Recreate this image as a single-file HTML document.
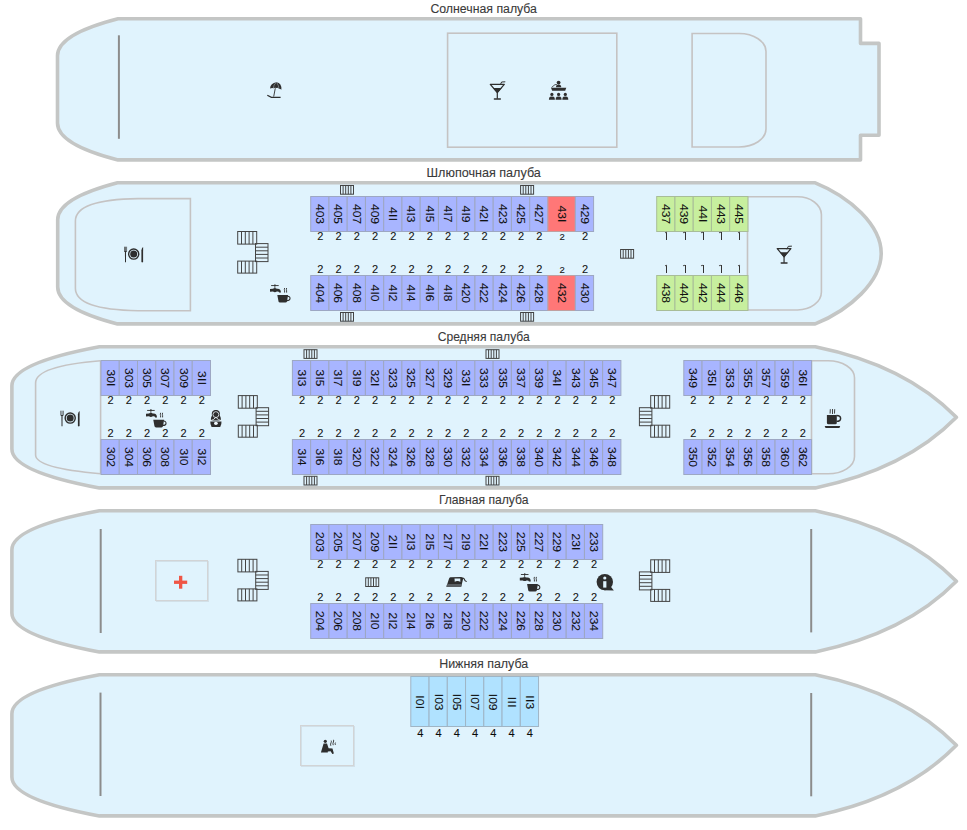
<!DOCTYPE html>
<html><head><meta charset="utf-8"><style>
html,body{margin:0;padding:0;background:#fff;width:967px;height:830px;overflow:hidden;position:relative}
.c{position:absolute}
.c span{position:absolute;left:calc(50% - 0.6px);top:50%;transform:translate(-50%,-50%) rotate(90deg) scaleX(1.05);font:11.5px "Liberation Sans",sans-serif;color:#111;white-space:nowrap;line-height:1;-webkit-text-stroke:0.08px #000}
.c i{font-style:normal;margin:0 0.5px}
.o{display:inline-block;width:1px;height:8px;background:#333;margin-left:1px;position:relative;vertical-align:baseline}
.o:before{content:'';position:absolute;left:-1.6px;top:0.3px;width:2px;height:1px;background:#555;transform:rotate(-20deg)}
.l{position:absolute;width:20px;height:12px;text-align:center;font-family:"Liberation Sans",sans-serif;color:#111;line-height:12px;-webkit-text-stroke:0.08px #000}
</style></head><body>
<svg width="967" height="830" viewBox="0 0 967 830" style="position:absolute;left:0;top:0"><path d="M118,18.8 L860.5,18.8 L860.5,43.4 L879,43.4 L879,135.3 L860.5,135.3 L860.5,159.9 L118,159.9 Q57.5,144.36 57.5,122.90 L57.5,55.80 Q57.5,34.34 118,18.8 Z" fill="#e0f3fd" stroke="#c4c6c5" stroke-width="3.6" stroke-linejoin="round"/><path d="M117.5,182.8 L815.2,182.8 C850,196.8 881.2,225.35 881.2,253.35 C881.2,281.35 850,309.9 815.2,323.9 L117.5,323.9 Q57.7,308.36 57.7,286.90 L57.7,219.80 Q57.7,198.34 117.5,182.8 Z" fill="#e0f3fd" stroke="#c4c6c5" stroke-width="3.6" stroke-linejoin="round"/><path d="M99.4,346.8 L815.3,346.8 Q905,365.0 956.4,417.35 Q905,469.7 815.3,487.9 L99.4,487.9 Q11.9,471.52 11.9,448.90 L11.9,385.80 Q11.9,363.18 99.4,346.8 Z" fill="#e0f3fd" stroke="#c4c6c5" stroke-width="3.6" stroke-linejoin="round"/><path d="M99.4,510.8 L815.3,510.8 Q905,529.0 956.4,581.35 Q905,633.6999999999999 815.3,651.9 L99.4,651.9 Q11.9,635.52 11.9,612.90 L11.9,549.80 Q11.9,527.18 99.4,510.8 Z" fill="#e0f3fd" stroke="#c4c6c5" stroke-width="3.6" stroke-linejoin="round"/><path d="M99.4,674.8 L815.3,674.8 Q905,693.0 956.4,745.3499999999999 Q905,797.6999999999999 815.3,815.9 L99.4,815.9 Q11.9,799.52 11.9,776.90 L11.9,713.80 Q11.9,691.18 99.4,674.8 Z" fill="#e0f3fd" stroke="#c4c6c5" stroke-width="3.6" stroke-linejoin="round"/><text x="483.7" y="13.0" text-anchor="middle" font-family="Liberation Sans" font-size="12.3" fill="#3a3a3a" stroke="#3a3a3a" stroke-width="0.1">Солнечная палуба</text><text x="483.7" y="176.8" text-anchor="middle" font-family="Liberation Sans" font-size="12.6" fill="#3a3a3a" stroke="#3a3a3a" stroke-width="0.1">Шлюпочная палуба</text><text x="483.7" y="340.6" text-anchor="middle" font-family="Liberation Sans" font-size="12.1" fill="#3a3a3a" stroke="#3a3a3a" stroke-width="0.1">Средняя палуба</text><text x="483.7" y="504.4" text-anchor="middle" font-family="Liberation Sans" font-size="12.15" fill="#3a3a3a" stroke="#3a3a3a" stroke-width="0.1">Главная палуба</text><text x="483.7" y="668.2" text-anchor="middle" font-family="Liberation Sans" font-size="12.45" fill="#3a3a3a" stroke="#3a3a3a" stroke-width="0.1">Нижняя палуба</text><line x1="118.9" y1="35.3" x2="118.9" y2="138.8" stroke="#8c8c8c" stroke-width="2"/><line x1="100.7" y1="529" x2="100.7" y2="633" stroke="#8c8c8c" stroke-width="2"/><line x1="811.2" y1="529" x2="811.2" y2="632.4" stroke="#8c8c8c" stroke-width="2"/><line x1="100.5" y1="692.6" x2="100.5" y2="796" stroke="#8c8c8c" stroke-width="2"/><line x1="811.2" y1="693" x2="811.2" y2="796.3" stroke="#8c8c8c" stroke-width="2"/><rect x="447.6" y="33.2" width="169.2" height="114" fill="none" stroke="#c5c3c3" stroke-width="1.6"/><path d="M692.1,33.5 L739,33.5 A27,18 0 0 1 766,51.5 L766,129 A27,18 0 0 1 739,147 L692.1,147 Z" fill="none" stroke="#c5c3c3" stroke-width="1.6"/><path d="M190.4,198.6 L190.4,310.7 L138,310.7 Q75.4,309.8 75.4,288.3 L75.4,221 Q75.4,199.5 138,198.6 Z" fill="none" stroke="#c5c3c3" stroke-width="1.6"/><path d="M747.5,196.8 L797.5,196.8 A24,18 0 0 1 821.4,214.5 L821.4,292 A24,18 0 0 1 797.5,310 L747.5,310 Z" fill="none" stroke="#c5c3c3" stroke-width="1.6"/><path d="M100.6,360.8 Q35.6,366 35.6,383 L35.6,455 Q35.6,468 100.6,473.8" fill="none" stroke="#c5c3c3" stroke-width="1.6"/><line x1="100.6" y1="360.8" x2="100.6" y2="473.8" stroke="#c5c3c3" stroke-width="1.6"/><path d="M811.5,360.8 L828,360.8 A26.5,17 0 0 1 854.5,377.8 L854.5,456.8 A26.5,17 0 0 1 828,473.8 L811.5,473.8 Z" fill="none" stroke="#c5c3c3" stroke-width="1.6"/><rect x="156.5" y="561.5" width="52" height="40" fill="none" stroke="#b8bcc0" stroke-width="1" opacity="0.35"/><rect x="155.5" y="560.5" width="52" height="40" fill="none" stroke="#d2d4d6" stroke-width="1"/><rect x="301.5" y="726.5" width="53" height="40" fill="none" stroke="#b8bcc0" stroke-width="1" opacity="0.35"/><rect x="300.5" y="725.5" width="53" height="40" fill="none" stroke="#d2d4d6" stroke-width="1"/><g fill="#2e2e2e"><path d="M270,88.6 Q270.5,83 276.5,82.3 Q281.8,83 281.4,89.8 Q280.3,88.6 279,88.7 Q277.8,87.4 276.3,88 Q274.6,87.3 273.4,88.3 Q271.8,87.8 270,88.6 Z"/><path d="M275.8,82.8 Q273.6,85 273.3,88.2 M276.8,82.7 Q278.8,85.5 278.9,88.6" stroke="#b8c4cc" stroke-width="0.5" fill="none"/><path d="M275.3,88.2 L273.7,96.6" stroke="#2e2e2e" stroke-width="0.9" fill="none"/><path d="M267.3,95.2 L271.4,97.4 L280.6,97.4" stroke="#2e2e2e" stroke-width="1.2" fill="none"/></g><g transform="translate(490.3,84.4) scale(1.0)" fill="#2e2e2e"><path d="M0,0 L14,0 L7,8.2 Z" fill="none" stroke="#2e2e2e" stroke-width="1.25" stroke-linejoin="round"/><path d="M2.6,3.7 L11.4,3.7 L7,8.6 Z"/><rect x="6.4" y="8" width="1.2" height="6.4"/><rect x="3.4" y="13.9" width="7.3" height="1.4" rx="0.6"/><path d="M9.9,0.6 L11.3,-2.4 L15,-2.6" fill="none" stroke="#2e2e2e" stroke-width="1"/></g><g transform="translate(777.2,248.7) scale(0.98)" fill="#2e2e2e"><path d="M0,0 L14,0 L7,8.2 Z" fill="none" stroke="#2e2e2e" stroke-width="1.25" stroke-linejoin="round"/><path d="M2.6,3.7 L11.4,3.7 L7,8.6 Z"/><rect x="6.4" y="8" width="1.2" height="6.4"/><rect x="3.4" y="13.9" width="7.3" height="1.4" rx="0.6"/><path d="M9.9,0.6 L11.3,-2.4 L15,-2.6" fill="none" stroke="#2e2e2e" stroke-width="1"/></g><g fill="#2e2e2e"><circle cx="558.6" cy="82.6" r="1.9"/><path d="M551,87.8 L566.3,87.8 L565.2,90.8 L552.2,90.8 Z"/><path d="M551.6,87.4 L555,84.6 L557,84.6" stroke="#2e2e2e" stroke-width="0.8" fill="none"/><path d="M556,87.3 Q556,84.6 558.6,84.6 Q561.2,84.6 561.2,87.3 Z"/><circle cx="551.9" cy="94.4" r="1.6"/><path d="M548.9,99.7 L549.1999999999999,97.8 Q549.6,96.5 551.9,96.5 Q554.1999999999999,96.5 554.6,97.8 L554.9,99.7 Z"/><circle cx="558.6" cy="94.4" r="1.6"/><path d="M555.6,99.7 L555.9,97.8 Q556.3000000000001,96.5 558.6,96.5 Q560.9,96.5 561.3000000000001,97.8 L561.6,99.7 Z"/><circle cx="565.3" cy="94.4" r="1.6"/><path d="M562.3,99.7 L562.5999999999999,97.8 Q563.0,96.5 565.3,96.5 Q567.5999999999999,96.5 568.0,97.8 L568.3,99.7 Z"/></g><g transform="translate(133.7,254.1)" fill="#2e2e2e"><rect x="-9.7" y="-7.4" width="0.65" height="4.4"/><rect x="-8.5" y="-7.4" width="0.65" height="4.4"/><rect x="-7.3" y="-7.4" width="0.65" height="4.4"/><path d="M-9.7,-3.2 L-6.65,-3.2 Q-6.9,-2.1 -7.7,-2 L-8.7,-2 Q-9.5,-2.1 -9.7,-3.2 Z"/><path d="M-8.75,-2.3 L-7.65,-2.3 L-7.7,8 L-8.2,8.4 L-8.7,8 Z"/><circle cx="0" cy="0" r="5.05" fill="none" stroke="#2e2e2e" stroke-width="1.4"/><circle cx="0" cy="0" r="3.5"/><path d="M7.7,8 L7.7,-3.5 Q8,-6.6 9.4,-7.2 L9.4,8 Q8.5,8.6 7.7,8 Z"/></g><g transform="translate(70.2,418.1)" fill="#2e2e2e"><rect x="-9.7" y="-7.4" width="0.65" height="4.4"/><rect x="-8.5" y="-7.4" width="0.65" height="4.4"/><rect x="-7.3" y="-7.4" width="0.65" height="4.4"/><path d="M-9.7,-3.2 L-6.65,-3.2 Q-6.9,-2.1 -7.7,-2 L-8.7,-2 Q-9.5,-2.1 -9.7,-3.2 Z"/><path d="M-8.75,-2.3 L-7.65,-2.3 L-7.7,8 L-8.2,8.4 L-8.7,8 Z"/><circle cx="0" cy="0" r="5.05" fill="none" stroke="#2e2e2e" stroke-width="1.4"/><circle cx="0" cy="0" r="3.5"/><path d="M7.7,8 L7.7,-3.5 Q8,-6.6 9.4,-7.2 L9.4,8 Q8.5,8.6 7.7,8 Z"/></g><g transform="translate(270,285.6)" fill="#2e2e2e"><rect x="1.1" y="-0.45" width="7.6" height="0.9"/><rect x="4.2" y="-1.1" width="1.4" height="1.2"/><rect x="4.5" y="0" width="0.8" height="2.4"/><path d="M0,3.3 L3,3.1 Q4.9,1.8 6.8,3.1 L7.6,3.1 Q10.9,3.3 11,7 L9.1,7 Q9,6 7.6,5.9 L6.8,5.9 Q4.9,7.3 3,5.9 L0,6.1 Z"/><path d="M7.3,9.4 L18.1,9.4 L17,15.9 Q16.7,17 15.5,17 L10,17 Q8.8,17 8.5,15.9 Z"/><path d="M17.6,10.6 Q20.2,10.8 20,13.2 Q19.8,15 16.9,15" fill="none" stroke="#2e2e2e" stroke-width="1.1"/><path d="M14.6,2.4 Q14.1,4 14.6,5.2 L14.6,7 M16.6,2.4 Q16.1,4 16.6,5.2 L16.6,7" stroke="#2e2e2e" stroke-width="0.9" fill="none"/></g><g transform="translate(146,410.4)" fill="#2e2e2e"><rect x="1.1" y="-0.45" width="7.6" height="0.9"/><rect x="4.2" y="-1.1" width="1.4" height="1.2"/><rect x="4.5" y="0" width="0.8" height="2.4"/><path d="M0,3.3 L3,3.1 Q4.9,1.8 6.8,3.1 L7.6,3.1 Q10.9,3.3 11,7 L9.1,7 Q9,6 7.6,5.9 L6.8,5.9 Q4.9,7.3 3,5.9 L0,6.1 Z"/><path d="M7.3,9.4 L18.1,9.4 L17,15.9 Q16.7,17 15.5,17 L10,17 Q8.8,17 8.5,15.9 Z"/><path d="M17.6,10.6 Q20.2,10.8 20,13.2 Q19.8,15 16.9,15" fill="none" stroke="#2e2e2e" stroke-width="1.1"/><path d="M14.6,2.4 Q14.1,4 14.6,5.2 L14.6,7 M16.6,2.4 Q16.1,4 16.6,5.2 L16.6,7" stroke="#2e2e2e" stroke-width="0.9" fill="none"/></g><g transform="translate(519.8,574.5)" fill="#2e2e2e"><rect x="1.1" y="-0.45" width="7.6" height="0.9"/><rect x="4.2" y="-1.1" width="1.4" height="1.2"/><rect x="4.5" y="0" width="0.8" height="2.4"/><path d="M0,3.3 L3,3.1 Q4.9,1.8 6.8,3.1 L7.6,3.1 Q10.9,3.3 11,7 L9.1,7 Q9,6 7.6,5.9 L6.8,5.9 Q4.9,7.3 3,5.9 L0,6.1 Z"/><path d="M7.3,9.4 L18.1,9.4 L17,15.9 Q16.7,17 15.5,17 L10,17 Q8.8,17 8.5,15.9 Z"/><path d="M17.6,10.6 Q20.2,10.8 20,13.2 Q19.8,15 16.9,15" fill="none" stroke="#2e2e2e" stroke-width="1.1"/><path d="M14.6,2.4 Q14.1,4 14.6,5.2 L14.6,7 M16.6,2.4 Q16.1,4 16.6,5.2 L16.6,7" stroke="#2e2e2e" stroke-width="0.9" fill="none"/></g><g transform="translate(237.2,231)" fill="none" stroke="#444" stroke-width="1"><rect x="0.5" y="0.5" width="19" height="12.6"/><line x1="4.30" y1="0.5" x2="4.30" y2="13.1"/><line x1="8.10" y1="0.5" x2="8.10" y2="13.1"/><line x1="11.90" y1="0.5" x2="11.90" y2="13.1"/><line x1="15.70" y1="0.5" x2="15.70" y2="13.1"/><rect x="18.3" y="12.6" width="12.5" height="18"/><line x1="18.3" y1="16.20" x2="30.8" y2="16.20"/><line x1="18.3" y1="19.80" x2="30.8" y2="19.80"/><line x1="18.3" y1="23.40" x2="30.8" y2="23.40"/><line x1="18.3" y1="27.00" x2="30.8" y2="27.00"/><rect x="0.5" y="30.1" width="19" height="12"/><line x1="4.30" y1="30.1" x2="4.30" y2="42.1"/><line x1="8.10" y1="30.1" x2="8.10" y2="42.1"/><line x1="11.90" y1="30.1" x2="11.90" y2="42.1"/><line x1="15.70" y1="30.1" x2="15.70" y2="42.1"/></g><g transform="translate(237.8,395.1)" fill="none" stroke="#444" stroke-width="1"><rect x="0.5" y="0.5" width="19" height="12.6"/><line x1="4.30" y1="0.5" x2="4.30" y2="13.1"/><line x1="8.10" y1="0.5" x2="8.10" y2="13.1"/><line x1="11.90" y1="0.5" x2="11.90" y2="13.1"/><line x1="15.70" y1="0.5" x2="15.70" y2="13.1"/><rect x="18.3" y="12.6" width="12.5" height="18"/><line x1="18.3" y1="16.20" x2="30.8" y2="16.20"/><line x1="18.3" y1="19.80" x2="30.8" y2="19.80"/><line x1="18.3" y1="23.40" x2="30.8" y2="23.40"/><line x1="18.3" y1="27.00" x2="30.8" y2="27.00"/><rect x="0.5" y="30.1" width="19" height="12"/><line x1="4.30" y1="30.1" x2="4.30" y2="42.1"/><line x1="8.10" y1="30.1" x2="8.10" y2="42.1"/><line x1="11.90" y1="30.1" x2="11.90" y2="42.1"/><line x1="15.70" y1="30.1" x2="15.70" y2="42.1"/></g><g transform="translate(237.4,558.8)" fill="none" stroke="#444" stroke-width="1"><rect x="0.5" y="0.5" width="19" height="12.6"/><line x1="4.30" y1="0.5" x2="4.30" y2="13.1"/><line x1="8.10" y1="0.5" x2="8.10" y2="13.1"/><line x1="11.90" y1="0.5" x2="11.90" y2="13.1"/><line x1="15.70" y1="0.5" x2="15.70" y2="13.1"/><rect x="18.3" y="12.6" width="12.5" height="18"/><line x1="18.3" y1="16.20" x2="30.8" y2="16.20"/><line x1="18.3" y1="19.80" x2="30.8" y2="19.80"/><line x1="18.3" y1="23.40" x2="30.8" y2="23.40"/><line x1="18.3" y1="27.00" x2="30.8" y2="27.00"/><rect x="0.5" y="30.1" width="19" height="12"/><line x1="4.30" y1="30.1" x2="4.30" y2="42.1"/><line x1="8.10" y1="30.1" x2="8.10" y2="42.1"/><line x1="11.90" y1="30.1" x2="11.90" y2="42.1"/><line x1="15.70" y1="30.1" x2="15.70" y2="42.1"/></g><g transform="translate(639.2,395.1) translate(31,0) scale(-1,1)" fill="none" stroke="#444" stroke-width="1"><rect x="0.5" y="0.5" width="19" height="12.6"/><line x1="4.30" y1="0.5" x2="4.30" y2="13.1"/><line x1="8.10" y1="0.5" x2="8.10" y2="13.1"/><line x1="11.90" y1="0.5" x2="11.90" y2="13.1"/><line x1="15.70" y1="0.5" x2="15.70" y2="13.1"/><rect x="18.3" y="12.6" width="12.5" height="18"/><line x1="18.3" y1="16.20" x2="30.8" y2="16.20"/><line x1="18.3" y1="19.80" x2="30.8" y2="19.80"/><line x1="18.3" y1="23.40" x2="30.8" y2="23.40"/><line x1="18.3" y1="27.00" x2="30.8" y2="27.00"/><rect x="0.5" y="30.1" width="19" height="12"/><line x1="4.30" y1="30.1" x2="4.30" y2="42.1"/><line x1="8.10" y1="30.1" x2="8.10" y2="42.1"/><line x1="11.90" y1="30.1" x2="11.90" y2="42.1"/><line x1="15.70" y1="30.1" x2="15.70" y2="42.1"/></g><g transform="translate(639.2,559.3) translate(31,0) scale(-1,1)" fill="none" stroke="#444" stroke-width="1"><rect x="0.5" y="0.5" width="19" height="12.6"/><line x1="4.30" y1="0.5" x2="4.30" y2="13.1"/><line x1="8.10" y1="0.5" x2="8.10" y2="13.1"/><line x1="11.90" y1="0.5" x2="11.90" y2="13.1"/><line x1="15.70" y1="0.5" x2="15.70" y2="13.1"/><rect x="18.3" y="12.6" width="12.5" height="18"/><line x1="18.3" y1="16.20" x2="30.8" y2="16.20"/><line x1="18.3" y1="19.80" x2="30.8" y2="19.80"/><line x1="18.3" y1="23.40" x2="30.8" y2="23.40"/><line x1="18.3" y1="27.00" x2="30.8" y2="27.00"/><rect x="0.5" y="30.1" width="19" height="12"/><line x1="4.30" y1="30.1" x2="4.30" y2="42.1"/><line x1="8.10" y1="30.1" x2="8.10" y2="42.1"/><line x1="11.90" y1="30.1" x2="11.90" y2="42.1"/><line x1="15.70" y1="30.1" x2="15.70" y2="42.1"/></g><g fill="none" stroke="#444" stroke-width="1"><rect x="340.5" y="185.5" width="13.0" height="8.7"/><line x1="343.10" y1="185.5" x2="343.10" y2="194.2"/><line x1="345.70" y1="185.5" x2="345.70" y2="194.2"/><line x1="348.30" y1="185.5" x2="348.30" y2="194.2"/><line x1="350.90" y1="185.5" x2="350.90" y2="194.2"/></g><g fill="none" stroke="#444" stroke-width="1"><rect x="340.5" y="312.5" width="13.0" height="8.7"/><line x1="343.10" y1="312.5" x2="343.10" y2="321.2"/><line x1="345.70" y1="312.5" x2="345.70" y2="321.2"/><line x1="348.30" y1="312.5" x2="348.30" y2="321.2"/><line x1="350.90" y1="312.5" x2="350.90" y2="321.2"/></g><g fill="none" stroke="#444" stroke-width="1"><rect x="520.6" y="185.5" width="13.0" height="8.7"/><line x1="523.20" y1="185.5" x2="523.20" y2="194.2"/><line x1="525.80" y1="185.5" x2="525.80" y2="194.2"/><line x1="528.40" y1="185.5" x2="528.40" y2="194.2"/><line x1="531.00" y1="185.5" x2="531.00" y2="194.2"/></g><g fill="none" stroke="#444" stroke-width="1"><rect x="520.6" y="312.5" width="13.0" height="8.7"/><line x1="523.20" y1="312.5" x2="523.20" y2="321.2"/><line x1="525.80" y1="312.5" x2="525.80" y2="321.2"/><line x1="528.40" y1="312.5" x2="528.40" y2="321.2"/><line x1="531.00" y1="312.5" x2="531.00" y2="321.2"/></g><g fill="none" stroke="#444" stroke-width="1"><rect x="620.6" y="249.5" width="13.0" height="8.7"/><line x1="623.20" y1="249.5" x2="623.20" y2="258.2"/><line x1="625.80" y1="249.5" x2="625.80" y2="258.2"/><line x1="628.40" y1="249.5" x2="628.40" y2="258.2"/><line x1="631.00" y1="249.5" x2="631.00" y2="258.2"/></g><g fill="none" stroke="#444" stroke-width="1"><rect x="304.0" y="349.7" width="13.0" height="8.7"/><line x1="306.60" y1="349.7" x2="306.60" y2="358.4"/><line x1="309.20" y1="349.7" x2="309.20" y2="358.4"/><line x1="311.80" y1="349.7" x2="311.80" y2="358.4"/><line x1="314.40" y1="349.7" x2="314.40" y2="358.4"/></g><g fill="none" stroke="#444" stroke-width="1"><rect x="486.0" y="349.7" width="13.0" height="8.7"/><line x1="488.60" y1="349.7" x2="488.60" y2="358.4"/><line x1="491.20" y1="349.7" x2="491.20" y2="358.4"/><line x1="493.80" y1="349.7" x2="493.80" y2="358.4"/><line x1="496.40" y1="349.7" x2="496.40" y2="358.4"/></g><g fill="none" stroke="#444" stroke-width="1"><rect x="304.0" y="476.3" width="13.0" height="8.7"/><line x1="306.60" y1="476.3" x2="306.60" y2="485.0"/><line x1="309.20" y1="476.3" x2="309.20" y2="485.0"/><line x1="311.80" y1="476.3" x2="311.80" y2="485.0"/><line x1="314.40" y1="476.3" x2="314.40" y2="485.0"/></g><g fill="none" stroke="#444" stroke-width="1"><rect x="486.0" y="476.3" width="13.0" height="8.7"/><line x1="488.60" y1="476.3" x2="488.60" y2="485.0"/><line x1="491.20" y1="476.3" x2="491.20" y2="485.0"/><line x1="493.80" y1="476.3" x2="493.80" y2="485.0"/><line x1="496.40" y1="476.3" x2="496.40" y2="485.0"/></g><g fill="none" stroke="#444" stroke-width="1"><rect x="365.7" y="577.8" width="13.0" height="8.7"/><line x1="368.30" y1="577.8" x2="368.30" y2="586.5"/><line x1="370.90" y1="577.8" x2="370.90" y2="586.5"/><line x1="373.50" y1="577.8" x2="373.50" y2="586.5"/><line x1="376.10" y1="577.8" x2="376.10" y2="586.5"/></g><g fill="#2e2e2e"><path d="M211,420.6 C210.6,418.2 211.4,416.8 212,415.6 C211.2,411.2 213.2,409.9 215.9,409.9 C218.6,409.9 220.6,411.2 219.8,415.6 C220.4,416.8 221.2,418.2 220.8,420.6 Z"/><circle cx="215.9" cy="414.6" r="2.9" fill="none" stroke="#f2faff" stroke-width="0.8"/><circle cx="215.9" cy="414.6" r="2.0"/><path d="M210.5,420.7 Q213.5,420.2 215.9,417.3 Q218.3,420.2 221.3,420.7" stroke="#f2faff" stroke-width="0.9" fill="none"/><path d="M210.3,421.6 L221.5,421.6 Q221.7,424.6 220.2,426.9 L211.6,426.9 Q210.1,424.6 210.3,421.6 Z"/><ellipse cx="215.9" cy="423.3" rx="1.9" ry="1.6" fill="#f2faff"/></g><g fill="#2e2e2e"><path d="M826.9,415.1 L836.8,415.1 L836.8,422.8 Q836.8,424.3 835.3,424.3 L828.4,424.3 Q826.9,424.3 826.9,422.8 Z"/><path d="M836.5,415.6 Q840.6,415.6 840.6,418.4 Q840.6,421.3 836.5,421.3" stroke="#2e2e2e" stroke-width="1.5" fill="none"/><path d="M824.7,426 L840.2,426 L839.4,428 L825.5,428 Z"/><path d="M830.3,409.2 L830.1,413.6 M832.5,409 L832.5,414 M834.7,409.2 L834.5,413.6" stroke="#2e2e2e" stroke-width="0.9"/></g><g fill="#2e2e2e"><path d="M446.4,586.8 L461.2,586.8 L463.2,578.4 Q463,577 461.2,576.9 L450.4,577.3 Q449.3,577.6 449,578.8 Z"/><path d="M454.5,578.6 L460.3,578.6 L460.3,582 Q459.5,580.9 457.4,580.9 Q455.4,580.9 454.8,582 Z" fill="#e0f3fd"/><path d="M447.1,584 L461.8,584 L461.2,586.8 L446.4,586.8 Z" fill="#5a5f63"/><path d="M462.6,577.8 Q464.6,578.5 465,580.6 L466.7,581.6" stroke="#2e2e2e" stroke-width="1.1" fill="none"/></g><g fill="#2e2e2e"><circle cx="604.8" cy="582.1" r="8.2"/><path d="M604,590.2 L613.8,590.6 L610.5,586.3 Z"/><circle cx="604.8" cy="578" r="1.6" fill="#e0f3fd"/><rect x="603.2" y="581.2" width="3.2" height="6.4" fill="#e0f3fd"/></g><g fill="#ef5545"><rect x="174" y="580.6" width="13.2" height="3.3"/><rect x="179" y="575.8" width="3.3" height="12.9"/></g><g fill="#2e2e2e"><circle cx="325.3" cy="741.3" r="1.6"/><path d="M320.9,752.6 L323.6,743.6 L327,743.6 L328.6,748.3 L332.5,748.6 L333.8,753.3 Q333.2,754.2 332.2,753.7 L330.6,751.2 L327.8,751.4 L327.8,752.6 Z"/><path d="M330.8,745.8 Q330.2,744 331.1,742.6 Q331.6,741.7 331.2,740.6 M333.2,745.2 Q332.6,743.4 333.4,742 Q333.9,741 333.5,739.8 M335.4,744.9 Q334.8,743.6 335.5,742.6" stroke="#2e2e2e" stroke-width="0.9" fill="none"/></g></svg><svg width='967' height='830' style='position:absolute;left:0;top:0'><rect x="310.70" y="196.5" width="18.25" height="35" fill="#a8b5ff" stroke="#9da7c3" stroke-width="1"/><rect x="328.95" y="196.5" width="18.25" height="35" fill="#a8b5ff" stroke="#9da7c3" stroke-width="1"/><rect x="347.20" y="196.5" width="18.25" height="35" fill="#a8b5ff" stroke="#9da7c3" stroke-width="1"/><rect x="365.45" y="196.5" width="18.25" height="35" fill="#a8b5ff" stroke="#9da7c3" stroke-width="1"/><rect x="383.70" y="196.5" width="18.25" height="35" fill="#a8b5ff" stroke="#9da7c3" stroke-width="1"/><rect x="401.95" y="196.5" width="18.25" height="35" fill="#a8b5ff" stroke="#9da7c3" stroke-width="1"/><rect x="420.20" y="196.5" width="18.25" height="35" fill="#a8b5ff" stroke="#9da7c3" stroke-width="1"/><rect x="438.45" y="196.5" width="18.25" height="35" fill="#a8b5ff" stroke="#9da7c3" stroke-width="1"/><rect x="456.70" y="196.5" width="18.25" height="35" fill="#a8b5ff" stroke="#9da7c3" stroke-width="1"/><rect x="474.95" y="196.5" width="18.25" height="35" fill="#a8b5ff" stroke="#9da7c3" stroke-width="1"/><rect x="493.20" y="196.5" width="18.25" height="35" fill="#a8b5ff" stroke="#9da7c3" stroke-width="1"/><rect x="511.45" y="196.5" width="18.25" height="35" fill="#a8b5ff" stroke="#9da7c3" stroke-width="1"/><rect x="529.70" y="196.5" width="18.25" height="35" fill="#a8b5ff" stroke="#9da7c3" stroke-width="1"/><rect x="547.95" y="196.5" width="27.38" height="35" fill="#ff7777" stroke="#c0a0a0" stroke-width="1"/><rect x="575.33" y="196.5" width="18.25" height="35" fill="#a8b5ff" stroke="#9da7c3" stroke-width="1"/><rect x="310.70" y="275.5" width="18.25" height="35" fill="#a8b5ff" stroke="#9da7c3" stroke-width="1"/><rect x="328.95" y="275.5" width="18.25" height="35" fill="#a8b5ff" stroke="#9da7c3" stroke-width="1"/><rect x="347.20" y="275.5" width="18.25" height="35" fill="#a8b5ff" stroke="#9da7c3" stroke-width="1"/><rect x="365.45" y="275.5" width="18.25" height="35" fill="#a8b5ff" stroke="#9da7c3" stroke-width="1"/><rect x="383.70" y="275.5" width="18.25" height="35" fill="#a8b5ff" stroke="#9da7c3" stroke-width="1"/><rect x="401.95" y="275.5" width="18.25" height="35" fill="#a8b5ff" stroke="#9da7c3" stroke-width="1"/><rect x="420.20" y="275.5" width="18.25" height="35" fill="#a8b5ff" stroke="#9da7c3" stroke-width="1"/><rect x="438.45" y="275.5" width="18.25" height="35" fill="#a8b5ff" stroke="#9da7c3" stroke-width="1"/><rect x="456.70" y="275.5" width="18.25" height="35" fill="#a8b5ff" stroke="#9da7c3" stroke-width="1"/><rect x="474.95" y="275.5" width="18.25" height="35" fill="#a8b5ff" stroke="#9da7c3" stroke-width="1"/><rect x="493.20" y="275.5" width="18.25" height="35" fill="#a8b5ff" stroke="#9da7c3" stroke-width="1"/><rect x="511.45" y="275.5" width="18.25" height="35" fill="#a8b5ff" stroke="#9da7c3" stroke-width="1"/><rect x="529.70" y="275.5" width="18.25" height="35" fill="#a8b5ff" stroke="#9da7c3" stroke-width="1"/><rect x="547.95" y="275.5" width="27.38" height="35" fill="#ff7777" stroke="#c0a0a0" stroke-width="1"/><rect x="575.33" y="275.5" width="18.25" height="35" fill="#a8b5ff" stroke="#9da7c3" stroke-width="1"/><rect x="656.70" y="196.5" width="18.25" height="35" fill="#c7ef9e" stroke="#a8bd98" stroke-width="1"/><rect x="674.95" y="196.5" width="18.25" height="35" fill="#c7ef9e" stroke="#a8bd98" stroke-width="1"/><rect x="693.20" y="196.5" width="18.25" height="35" fill="#c7ef9e" stroke="#a8bd98" stroke-width="1"/><rect x="711.45" y="196.5" width="18.25" height="35" fill="#c7ef9e" stroke="#a8bd98" stroke-width="1"/><rect x="729.70" y="196.5" width="18.25" height="35" fill="#c7ef9e" stroke="#a8bd98" stroke-width="1"/><rect x="656.70" y="275.5" width="18.25" height="35" fill="#c7ef9e" stroke="#a8bd98" stroke-width="1"/><rect x="674.95" y="275.5" width="18.25" height="35" fill="#c7ef9e" stroke="#a8bd98" stroke-width="1"/><rect x="693.20" y="275.5" width="18.25" height="35" fill="#c7ef9e" stroke="#a8bd98" stroke-width="1"/><rect x="711.45" y="275.5" width="18.25" height="35" fill="#c7ef9e" stroke="#a8bd98" stroke-width="1"/><rect x="729.70" y="275.5" width="18.25" height="35" fill="#c7ef9e" stroke="#a8bd98" stroke-width="1"/><rect x="101.00" y="360.5" width="18.25" height="35" fill="#a8b5ff" stroke="#9da7c3" stroke-width="1"/><rect x="119.25" y="360.5" width="18.25" height="35" fill="#a8b5ff" stroke="#9da7c3" stroke-width="1"/><rect x="137.50" y="360.5" width="18.25" height="35" fill="#a8b5ff" stroke="#9da7c3" stroke-width="1"/><rect x="155.75" y="360.5" width="18.25" height="35" fill="#a8b5ff" stroke="#9da7c3" stroke-width="1"/><rect x="174.00" y="360.5" width="18.25" height="35" fill="#a8b5ff" stroke="#9da7c3" stroke-width="1"/><rect x="192.25" y="360.5" width="18.25" height="35" fill="#a8b5ff" stroke="#9da7c3" stroke-width="1"/><rect x="101.00" y="439.5" width="18.25" height="35" fill="#a8b5ff" stroke="#9da7c3" stroke-width="1"/><rect x="119.25" y="439.5" width="18.25" height="35" fill="#a8b5ff" stroke="#9da7c3" stroke-width="1"/><rect x="137.50" y="439.5" width="18.25" height="35" fill="#a8b5ff" stroke="#9da7c3" stroke-width="1"/><rect x="155.75" y="439.5" width="18.25" height="35" fill="#a8b5ff" stroke="#9da7c3" stroke-width="1"/><rect x="174.00" y="439.5" width="18.25" height="35" fill="#a8b5ff" stroke="#9da7c3" stroke-width="1"/><rect x="192.25" y="439.5" width="18.25" height="35" fill="#a8b5ff" stroke="#9da7c3" stroke-width="1"/><rect x="292.40" y="360.5" width="18.25" height="35" fill="#a8b5ff" stroke="#9da7c3" stroke-width="1"/><rect x="310.65" y="360.5" width="18.25" height="35" fill="#a8b5ff" stroke="#9da7c3" stroke-width="1"/><rect x="328.90" y="360.5" width="18.25" height="35" fill="#a8b5ff" stroke="#9da7c3" stroke-width="1"/><rect x="347.15" y="360.5" width="18.25" height="35" fill="#a8b5ff" stroke="#9da7c3" stroke-width="1"/><rect x="365.40" y="360.5" width="18.25" height="35" fill="#a8b5ff" stroke="#9da7c3" stroke-width="1"/><rect x="383.65" y="360.5" width="18.25" height="35" fill="#a8b5ff" stroke="#9da7c3" stroke-width="1"/><rect x="401.90" y="360.5" width="18.25" height="35" fill="#a8b5ff" stroke="#9da7c3" stroke-width="1"/><rect x="420.15" y="360.5" width="18.25" height="35" fill="#a8b5ff" stroke="#9da7c3" stroke-width="1"/><rect x="438.40" y="360.5" width="18.25" height="35" fill="#a8b5ff" stroke="#9da7c3" stroke-width="1"/><rect x="456.65" y="360.5" width="18.25" height="35" fill="#a8b5ff" stroke="#9da7c3" stroke-width="1"/><rect x="474.90" y="360.5" width="18.25" height="35" fill="#a8b5ff" stroke="#9da7c3" stroke-width="1"/><rect x="493.15" y="360.5" width="18.25" height="35" fill="#a8b5ff" stroke="#9da7c3" stroke-width="1"/><rect x="511.40" y="360.5" width="18.25" height="35" fill="#a8b5ff" stroke="#9da7c3" stroke-width="1"/><rect x="529.65" y="360.5" width="18.25" height="35" fill="#a8b5ff" stroke="#9da7c3" stroke-width="1"/><rect x="547.90" y="360.5" width="18.25" height="35" fill="#a8b5ff" stroke="#9da7c3" stroke-width="1"/><rect x="566.15" y="360.5" width="18.25" height="35" fill="#a8b5ff" stroke="#9da7c3" stroke-width="1"/><rect x="584.40" y="360.5" width="18.25" height="35" fill="#a8b5ff" stroke="#9da7c3" stroke-width="1"/><rect x="602.65" y="360.5" width="18.25" height="35" fill="#a8b5ff" stroke="#9da7c3" stroke-width="1"/><rect x="292.40" y="439.5" width="18.25" height="35" fill="#a8b5ff" stroke="#9da7c3" stroke-width="1"/><rect x="310.65" y="439.5" width="18.25" height="35" fill="#a8b5ff" stroke="#9da7c3" stroke-width="1"/><rect x="328.90" y="439.5" width="18.25" height="35" fill="#a8b5ff" stroke="#9da7c3" stroke-width="1"/><rect x="347.15" y="439.5" width="18.25" height="35" fill="#a8b5ff" stroke="#9da7c3" stroke-width="1"/><rect x="365.40" y="439.5" width="18.25" height="35" fill="#a8b5ff" stroke="#9da7c3" stroke-width="1"/><rect x="383.65" y="439.5" width="18.25" height="35" fill="#a8b5ff" stroke="#9da7c3" stroke-width="1"/><rect x="401.90" y="439.5" width="18.25" height="35" fill="#a8b5ff" stroke="#9da7c3" stroke-width="1"/><rect x="420.15" y="439.5" width="18.25" height="35" fill="#a8b5ff" stroke="#9da7c3" stroke-width="1"/><rect x="438.40" y="439.5" width="18.25" height="35" fill="#a8b5ff" stroke="#9da7c3" stroke-width="1"/><rect x="456.65" y="439.5" width="18.25" height="35" fill="#a8b5ff" stroke="#9da7c3" stroke-width="1"/><rect x="474.90" y="439.5" width="18.25" height="35" fill="#a8b5ff" stroke="#9da7c3" stroke-width="1"/><rect x="493.15" y="439.5" width="18.25" height="35" fill="#a8b5ff" stroke="#9da7c3" stroke-width="1"/><rect x="511.40" y="439.5" width="18.25" height="35" fill="#a8b5ff" stroke="#9da7c3" stroke-width="1"/><rect x="529.65" y="439.5" width="18.25" height="35" fill="#a8b5ff" stroke="#9da7c3" stroke-width="1"/><rect x="547.90" y="439.5" width="18.25" height="35" fill="#a8b5ff" stroke="#9da7c3" stroke-width="1"/><rect x="566.15" y="439.5" width="18.25" height="35" fill="#a8b5ff" stroke="#9da7c3" stroke-width="1"/><rect x="584.40" y="439.5" width="18.25" height="35" fill="#a8b5ff" stroke="#9da7c3" stroke-width="1"/><rect x="602.65" y="439.5" width="18.25" height="35" fill="#a8b5ff" stroke="#9da7c3" stroke-width="1"/><rect x="683.80" y="360.5" width="18.25" height="35" fill="#a8b5ff" stroke="#9da7c3" stroke-width="1"/><rect x="702.05" y="360.5" width="18.25" height="35" fill="#a8b5ff" stroke="#9da7c3" stroke-width="1"/><rect x="720.30" y="360.5" width="18.25" height="35" fill="#a8b5ff" stroke="#9da7c3" stroke-width="1"/><rect x="738.55" y="360.5" width="18.25" height="35" fill="#a8b5ff" stroke="#9da7c3" stroke-width="1"/><rect x="756.80" y="360.5" width="18.25" height="35" fill="#a8b5ff" stroke="#9da7c3" stroke-width="1"/><rect x="775.05" y="360.5" width="18.25" height="35" fill="#a8b5ff" stroke="#9da7c3" stroke-width="1"/><rect x="793.30" y="360.5" width="18.25" height="35" fill="#a8b5ff" stroke="#9da7c3" stroke-width="1"/><rect x="683.80" y="439.5" width="18.25" height="35" fill="#a8b5ff" stroke="#9da7c3" stroke-width="1"/><rect x="702.05" y="439.5" width="18.25" height="35" fill="#a8b5ff" stroke="#9da7c3" stroke-width="1"/><rect x="720.30" y="439.5" width="18.25" height="35" fill="#a8b5ff" stroke="#9da7c3" stroke-width="1"/><rect x="738.55" y="439.5" width="18.25" height="35" fill="#a8b5ff" stroke="#9da7c3" stroke-width="1"/><rect x="756.80" y="439.5" width="18.25" height="35" fill="#a8b5ff" stroke="#9da7c3" stroke-width="1"/><rect x="775.05" y="439.5" width="18.25" height="35" fill="#a8b5ff" stroke="#9da7c3" stroke-width="1"/><rect x="793.30" y="439.5" width="18.25" height="35" fill="#a8b5ff" stroke="#9da7c3" stroke-width="1"/><rect x="310.70" y="524.5" width="18.25" height="35" fill="#a8b5ff" stroke="#9da7c3" stroke-width="1"/><rect x="328.95" y="524.5" width="18.25" height="35" fill="#a8b5ff" stroke="#9da7c3" stroke-width="1"/><rect x="347.20" y="524.5" width="18.25" height="35" fill="#a8b5ff" stroke="#9da7c3" stroke-width="1"/><rect x="365.45" y="524.5" width="18.25" height="35" fill="#a8b5ff" stroke="#9da7c3" stroke-width="1"/><rect x="383.70" y="524.5" width="18.25" height="35" fill="#a8b5ff" stroke="#9da7c3" stroke-width="1"/><rect x="401.95" y="524.5" width="18.25" height="35" fill="#a8b5ff" stroke="#9da7c3" stroke-width="1"/><rect x="420.20" y="524.5" width="18.25" height="35" fill="#a8b5ff" stroke="#9da7c3" stroke-width="1"/><rect x="438.45" y="524.5" width="18.25" height="35" fill="#a8b5ff" stroke="#9da7c3" stroke-width="1"/><rect x="456.70" y="524.5" width="18.25" height="35" fill="#a8b5ff" stroke="#9da7c3" stroke-width="1"/><rect x="474.95" y="524.5" width="18.25" height="35" fill="#a8b5ff" stroke="#9da7c3" stroke-width="1"/><rect x="493.20" y="524.5" width="18.25" height="35" fill="#a8b5ff" stroke="#9da7c3" stroke-width="1"/><rect x="511.45" y="524.5" width="18.25" height="35" fill="#a8b5ff" stroke="#9da7c3" stroke-width="1"/><rect x="529.70" y="524.5" width="18.25" height="35" fill="#a8b5ff" stroke="#9da7c3" stroke-width="1"/><rect x="547.95" y="524.5" width="18.25" height="35" fill="#a8b5ff" stroke="#9da7c3" stroke-width="1"/><rect x="566.20" y="524.5" width="18.25" height="35" fill="#a8b5ff" stroke="#9da7c3" stroke-width="1"/><rect x="584.45" y="524.5" width="18.25" height="35" fill="#a8b5ff" stroke="#9da7c3" stroke-width="1"/><rect x="310.70" y="603.5" width="18.25" height="35" fill="#a8b5ff" stroke="#9da7c3" stroke-width="1"/><rect x="328.95" y="603.5" width="18.25" height="35" fill="#a8b5ff" stroke="#9da7c3" stroke-width="1"/><rect x="347.20" y="603.5" width="18.25" height="35" fill="#a8b5ff" stroke="#9da7c3" stroke-width="1"/><rect x="365.45" y="603.5" width="18.25" height="35" fill="#a8b5ff" stroke="#9da7c3" stroke-width="1"/><rect x="383.70" y="603.5" width="18.25" height="35" fill="#a8b5ff" stroke="#9da7c3" stroke-width="1"/><rect x="401.95" y="603.5" width="18.25" height="35" fill="#a8b5ff" stroke="#9da7c3" stroke-width="1"/><rect x="420.20" y="603.5" width="18.25" height="35" fill="#a8b5ff" stroke="#9da7c3" stroke-width="1"/><rect x="438.45" y="603.5" width="18.25" height="35" fill="#a8b5ff" stroke="#9da7c3" stroke-width="1"/><rect x="456.70" y="603.5" width="18.25" height="35" fill="#a8b5ff" stroke="#9da7c3" stroke-width="1"/><rect x="474.95" y="603.5" width="18.25" height="35" fill="#a8b5ff" stroke="#9da7c3" stroke-width="1"/><rect x="493.20" y="603.5" width="18.25" height="35" fill="#a8b5ff" stroke="#9da7c3" stroke-width="1"/><rect x="511.45" y="603.5" width="18.25" height="35" fill="#a8b5ff" stroke="#9da7c3" stroke-width="1"/><rect x="529.70" y="603.5" width="18.25" height="35" fill="#a8b5ff" stroke="#9da7c3" stroke-width="1"/><rect x="547.95" y="603.5" width="18.25" height="35" fill="#a8b5ff" stroke="#9da7c3" stroke-width="1"/><rect x="566.20" y="603.5" width="18.25" height="35" fill="#a8b5ff" stroke="#9da7c3" stroke-width="1"/><rect x="584.45" y="603.5" width="18.25" height="35" fill="#a8b5ff" stroke="#9da7c3" stroke-width="1"/><rect x="410.80" y="676.5" width="18.25" height="50" fill="#b0e2ff" stroke="#9fb5c5" stroke-width="1"/><rect x="429.05" y="676.5" width="18.25" height="50" fill="#b0e2ff" stroke="#9fb5c5" stroke-width="1"/><rect x="447.30" y="676.5" width="18.25" height="50" fill="#b0e2ff" stroke="#9fb5c5" stroke-width="1"/><rect x="465.55" y="676.5" width="18.25" height="50" fill="#b0e2ff" stroke="#9fb5c5" stroke-width="1"/><rect x="483.80" y="676.5" width="18.25" height="50" fill="#b0e2ff" stroke="#9fb5c5" stroke-width="1"/><rect x="502.05" y="676.5" width="18.25" height="50" fill="#b0e2ff" stroke="#9fb5c5" stroke-width="1"/><rect x="520.30" y="676.5" width="18.25" height="50" fill="#b0e2ff" stroke="#9fb5c5" stroke-width="1"/></svg><div class="c" style="left:310.20px;top:196px;width:19.25px;height:36px"><span>403</span></div><div class="c" style="left:328.45px;top:196px;width:19.25px;height:36px"><span>405</span></div><div class="c" style="left:346.70px;top:196px;width:19.25px;height:36px"><span>407</span></div><div class="c" style="left:364.95px;top:196px;width:19.25px;height:36px"><span>409</span></div><div class="c" style="left:383.20px;top:196px;width:19.25px;height:36px"><span>4<i>l</i><i>l</i></span></div><div class="c" style="left:401.45px;top:196px;width:19.25px;height:36px"><span>4<i>l</i>3</span></div><div class="c" style="left:419.70px;top:196px;width:19.25px;height:36px"><span>4<i>l</i>5</span></div><div class="c" style="left:437.95px;top:196px;width:19.25px;height:36px"><span>4<i>l</i>7</span></div><div class="c" style="left:456.20px;top:196px;width:19.25px;height:36px"><span>4<i>l</i>9</span></div><div class="c" style="left:474.45px;top:196px;width:19.25px;height:36px"><span>42<i>l</i></span></div><div class="c" style="left:492.70px;top:196px;width:19.25px;height:36px"><span>423</span></div><div class="c" style="left:510.95px;top:196px;width:19.25px;height:36px"><span>425</span></div><div class="c" style="left:529.20px;top:196px;width:19.25px;height:36px"><span>427</span></div><div class="c" style="left:547.45px;top:196px;width:28.38px;height:36px"><span>43<i>l</i></span></div><div class="c" style="left:574.83px;top:196px;width:19.25px;height:36px"><span>429</span></div><div class="c" style="left:310.20px;top:275px;width:19.25px;height:36px"><span>404</span></div><div class="c" style="left:328.45px;top:275px;width:19.25px;height:36px"><span>406</span></div><div class="c" style="left:346.70px;top:275px;width:19.25px;height:36px"><span>408</span></div><div class="c" style="left:364.95px;top:275px;width:19.25px;height:36px"><span>4<i>l</i>0</span></div><div class="c" style="left:383.20px;top:275px;width:19.25px;height:36px"><span>4<i>l</i>2</span></div><div class="c" style="left:401.45px;top:275px;width:19.25px;height:36px"><span>4<i>l</i>4</span></div><div class="c" style="left:419.70px;top:275px;width:19.25px;height:36px"><span>4<i>l</i>6</span></div><div class="c" style="left:437.95px;top:275px;width:19.25px;height:36px"><span>4<i>l</i>8</span></div><div class="c" style="left:456.20px;top:275px;width:19.25px;height:36px"><span>420</span></div><div class="c" style="left:474.45px;top:275px;width:19.25px;height:36px"><span>422</span></div><div class="c" style="left:492.70px;top:275px;width:19.25px;height:36px"><span>424</span></div><div class="c" style="left:510.95px;top:275px;width:19.25px;height:36px"><span>426</span></div><div class="c" style="left:529.20px;top:275px;width:19.25px;height:36px"><span>428</span></div><div class="c" style="left:547.45px;top:275px;width:28.38px;height:36px"><span>432</span></div><div class="c" style="left:574.83px;top:275px;width:19.25px;height:36px"><span>430</span></div><div class="l" style="left:310.32px;top:230.00px;font-size:11px">2</div><div class="l" style="left:328.57px;top:230.00px;font-size:11px">2</div><div class="l" style="left:346.82px;top:230.00px;font-size:11px">2</div><div class="l" style="left:365.07px;top:230.00px;font-size:11px">2</div><div class="l" style="left:383.32px;top:230.00px;font-size:11px">2</div><div class="l" style="left:401.57px;top:230.00px;font-size:11px">2</div><div class="l" style="left:419.82px;top:230.00px;font-size:11px">2</div><div class="l" style="left:438.07px;top:230.00px;font-size:11px">2</div><div class="l" style="left:456.32px;top:230.00px;font-size:11px">2</div><div class="l" style="left:474.57px;top:230.00px;font-size:11px">2</div><div class="l" style="left:492.82px;top:230.00px;font-size:11px">2</div><div class="l" style="left:511.08px;top:230.00px;font-size:11px">2</div><div class="l" style="left:529.33px;top:230.00px;font-size:11px">2</div><div class="l" style="left:552.14px;top:231.05px;font-size:9.6px">2</div><div class="l" style="left:574.95px;top:230.00px;font-size:11px">2</div><div class="l" style="left:310.32px;top:263.00px;font-size:11px">2</div><div class="l" style="left:328.57px;top:263.00px;font-size:11px">2</div><div class="l" style="left:346.82px;top:263.00px;font-size:11px">2</div><div class="l" style="left:365.07px;top:263.00px;font-size:11px">2</div><div class="l" style="left:383.32px;top:263.00px;font-size:11px">2</div><div class="l" style="left:401.57px;top:263.00px;font-size:11px">2</div><div class="l" style="left:419.82px;top:263.00px;font-size:11px">2</div><div class="l" style="left:438.07px;top:263.00px;font-size:11px">2</div><div class="l" style="left:456.32px;top:263.00px;font-size:11px">2</div><div class="l" style="left:474.57px;top:263.00px;font-size:11px">2</div><div class="l" style="left:492.82px;top:263.00px;font-size:11px">2</div><div class="l" style="left:511.08px;top:263.00px;font-size:11px">2</div><div class="l" style="left:529.33px;top:263.00px;font-size:11px">2</div><div class="l" style="left:552.14px;top:264.05px;font-size:9.6px">2</div><div class="l" style="left:574.95px;top:263.00px;font-size:11px">2</div><div class="c" style="left:656.20px;top:196px;width:19.25px;height:36px"><span>437</span></div><div class="c" style="left:674.45px;top:196px;width:19.25px;height:36px"><span>439</span></div><div class="c" style="left:692.70px;top:196px;width:19.25px;height:36px"><span>44<i>l</i></span></div><div class="c" style="left:710.95px;top:196px;width:19.25px;height:36px"><span>443</span></div><div class="c" style="left:729.20px;top:196px;width:19.25px;height:36px"><span>445</span></div><div class="c" style="left:656.20px;top:275px;width:19.25px;height:36px"><span>438</span></div><div class="c" style="left:674.45px;top:275px;width:19.25px;height:36px"><span>440</span></div><div class="c" style="left:692.70px;top:275px;width:19.25px;height:36px"><span>442</span></div><div class="c" style="left:710.95px;top:275px;width:19.25px;height:36px"><span>444</span></div><div class="c" style="left:729.20px;top:275px;width:19.25px;height:36px"><span>446</span></div><div class="l" style="left:656.33px;top:230.00px;font-size:11px"><b class=o></b></div><div class="l" style="left:674.58px;top:230.00px;font-size:11px"><b class=o></b></div><div class="l" style="left:692.83px;top:230.00px;font-size:11px"><b class=o></b></div><div class="l" style="left:711.08px;top:230.00px;font-size:11px"><b class=o></b></div><div class="l" style="left:729.33px;top:230.00px;font-size:11px"><b class=o></b></div><div class="l" style="left:656.33px;top:263.00px;font-size:11px"><b class=o></b></div><div class="l" style="left:674.58px;top:263.00px;font-size:11px"><b class=o></b></div><div class="l" style="left:692.83px;top:263.00px;font-size:11px"><b class=o></b></div><div class="l" style="left:711.08px;top:263.00px;font-size:11px"><b class=o></b></div><div class="l" style="left:729.33px;top:263.00px;font-size:11px"><b class=o></b></div><div class="c" style="left:100.50px;top:360px;width:19.25px;height:36px"><span>30<i>l</i></span></div><div class="c" style="left:118.75px;top:360px;width:19.25px;height:36px"><span>303</span></div><div class="c" style="left:137.00px;top:360px;width:19.25px;height:36px"><span>305</span></div><div class="c" style="left:155.25px;top:360px;width:19.25px;height:36px"><span>307</span></div><div class="c" style="left:173.50px;top:360px;width:19.25px;height:36px"><span>309</span></div><div class="c" style="left:191.75px;top:360px;width:19.25px;height:36px"><span>3<i>l</i><i>l</i></span></div><div class="c" style="left:100.50px;top:439px;width:19.25px;height:36px"><span>302</span></div><div class="c" style="left:118.75px;top:439px;width:19.25px;height:36px"><span>304</span></div><div class="c" style="left:137.00px;top:439px;width:19.25px;height:36px"><span>306</span></div><div class="c" style="left:155.25px;top:439px;width:19.25px;height:36px"><span>308</span></div><div class="c" style="left:173.50px;top:439px;width:19.25px;height:36px"><span>3<i>l</i>0</span></div><div class="c" style="left:191.75px;top:439px;width:19.25px;height:36px"><span>3<i>l</i>2</span></div><div class="l" style="left:100.62px;top:394.00px;font-size:11px">2</div><div class="l" style="left:118.88px;top:394.00px;font-size:11px">2</div><div class="l" style="left:137.12px;top:394.00px;font-size:11px">2</div><div class="l" style="left:155.38px;top:394.00px;font-size:11px">2</div><div class="l" style="left:173.62px;top:394.00px;font-size:11px">2</div><div class="l" style="left:191.88px;top:394.00px;font-size:11px">2</div><div class="l" style="left:100.62px;top:427.00px;font-size:11px">2</div><div class="l" style="left:118.88px;top:427.00px;font-size:11px">2</div><div class="l" style="left:137.12px;top:427.00px;font-size:11px">2</div><div class="l" style="left:155.38px;top:427.00px;font-size:11px">2</div><div class="l" style="left:173.62px;top:427.00px;font-size:11px">2</div><div class="l" style="left:191.88px;top:427.00px;font-size:11px">2</div><div class="c" style="left:291.90px;top:360px;width:19.25px;height:36px"><span>3<i>l</i>3</span></div><div class="c" style="left:310.15px;top:360px;width:19.25px;height:36px"><span>3<i>l</i>5</span></div><div class="c" style="left:328.40px;top:360px;width:19.25px;height:36px"><span>3<i>l</i>7</span></div><div class="c" style="left:346.65px;top:360px;width:19.25px;height:36px"><span>3<i>l</i>9</span></div><div class="c" style="left:364.90px;top:360px;width:19.25px;height:36px"><span>32<i>l</i></span></div><div class="c" style="left:383.15px;top:360px;width:19.25px;height:36px"><span>323</span></div><div class="c" style="left:401.40px;top:360px;width:19.25px;height:36px"><span>325</span></div><div class="c" style="left:419.65px;top:360px;width:19.25px;height:36px"><span>327</span></div><div class="c" style="left:437.90px;top:360px;width:19.25px;height:36px"><span>329</span></div><div class="c" style="left:456.15px;top:360px;width:19.25px;height:36px"><span>33<i>l</i></span></div><div class="c" style="left:474.40px;top:360px;width:19.25px;height:36px"><span>333</span></div><div class="c" style="left:492.65px;top:360px;width:19.25px;height:36px"><span>335</span></div><div class="c" style="left:510.90px;top:360px;width:19.25px;height:36px"><span>337</span></div><div class="c" style="left:529.15px;top:360px;width:19.25px;height:36px"><span>339</span></div><div class="c" style="left:547.40px;top:360px;width:19.25px;height:36px"><span>34<i>l</i></span></div><div class="c" style="left:565.65px;top:360px;width:19.25px;height:36px"><span>343</span></div><div class="c" style="left:583.90px;top:360px;width:19.25px;height:36px"><span>345</span></div><div class="c" style="left:602.15px;top:360px;width:19.25px;height:36px"><span>347</span></div><div class="c" style="left:291.90px;top:439px;width:19.25px;height:36px"><span>3<i>l</i>4</span></div><div class="c" style="left:310.15px;top:439px;width:19.25px;height:36px"><span>3<i>l</i>6</span></div><div class="c" style="left:328.40px;top:439px;width:19.25px;height:36px"><span>3<i>l</i>8</span></div><div class="c" style="left:346.65px;top:439px;width:19.25px;height:36px"><span>320</span></div><div class="c" style="left:364.90px;top:439px;width:19.25px;height:36px"><span>322</span></div><div class="c" style="left:383.15px;top:439px;width:19.25px;height:36px"><span>324</span></div><div class="c" style="left:401.40px;top:439px;width:19.25px;height:36px"><span>326</span></div><div class="c" style="left:419.65px;top:439px;width:19.25px;height:36px"><span>328</span></div><div class="c" style="left:437.90px;top:439px;width:19.25px;height:36px"><span>330</span></div><div class="c" style="left:456.15px;top:439px;width:19.25px;height:36px"><span>332</span></div><div class="c" style="left:474.40px;top:439px;width:19.25px;height:36px"><span>334</span></div><div class="c" style="left:492.65px;top:439px;width:19.25px;height:36px"><span>336</span></div><div class="c" style="left:510.90px;top:439px;width:19.25px;height:36px"><span>338</span></div><div class="c" style="left:529.15px;top:439px;width:19.25px;height:36px"><span>340</span></div><div class="c" style="left:547.40px;top:439px;width:19.25px;height:36px"><span>342</span></div><div class="c" style="left:565.65px;top:439px;width:19.25px;height:36px"><span>344</span></div><div class="c" style="left:583.90px;top:439px;width:19.25px;height:36px"><span>346</span></div><div class="c" style="left:602.15px;top:439px;width:19.25px;height:36px"><span>348</span></div><div class="l" style="left:292.02px;top:394.00px;font-size:11px">2</div><div class="l" style="left:310.27px;top:394.00px;font-size:11px">2</div><div class="l" style="left:328.52px;top:394.00px;font-size:11px">2</div><div class="l" style="left:346.77px;top:394.00px;font-size:11px">2</div><div class="l" style="left:365.02px;top:394.00px;font-size:11px">2</div><div class="l" style="left:383.27px;top:394.00px;font-size:11px">2</div><div class="l" style="left:401.52px;top:394.00px;font-size:11px">2</div><div class="l" style="left:419.77px;top:394.00px;font-size:11px">2</div><div class="l" style="left:438.02px;top:394.00px;font-size:11px">2</div><div class="l" style="left:456.27px;top:394.00px;font-size:11px">2</div><div class="l" style="left:474.52px;top:394.00px;font-size:11px">2</div><div class="l" style="left:492.77px;top:394.00px;font-size:11px">2</div><div class="l" style="left:511.02px;top:394.00px;font-size:11px">2</div><div class="l" style="left:529.27px;top:394.00px;font-size:11px">2</div><div class="l" style="left:547.52px;top:394.00px;font-size:11px">2</div><div class="l" style="left:565.77px;top:394.00px;font-size:11px">2</div><div class="l" style="left:584.02px;top:394.00px;font-size:11px">2</div><div class="l" style="left:602.27px;top:394.00px;font-size:11px">2</div><div class="l" style="left:292.02px;top:427.00px;font-size:11px">2</div><div class="l" style="left:310.27px;top:427.00px;font-size:11px">2</div><div class="l" style="left:328.52px;top:427.00px;font-size:11px">2</div><div class="l" style="left:346.77px;top:427.00px;font-size:11px">2</div><div class="l" style="left:365.02px;top:427.00px;font-size:11px">2</div><div class="l" style="left:383.27px;top:427.00px;font-size:11px">2</div><div class="l" style="left:401.52px;top:427.00px;font-size:11px">2</div><div class="l" style="left:419.77px;top:427.00px;font-size:11px">2</div><div class="l" style="left:438.02px;top:427.00px;font-size:11px">2</div><div class="l" style="left:456.27px;top:427.00px;font-size:11px">2</div><div class="l" style="left:474.52px;top:427.00px;font-size:11px">2</div><div class="l" style="left:492.77px;top:427.00px;font-size:11px">2</div><div class="l" style="left:511.02px;top:427.00px;font-size:11px">2</div><div class="l" style="left:529.27px;top:427.00px;font-size:11px">2</div><div class="l" style="left:547.52px;top:427.00px;font-size:11px">2</div><div class="l" style="left:565.77px;top:427.00px;font-size:11px">2</div><div class="l" style="left:584.02px;top:427.00px;font-size:11px">2</div><div class="l" style="left:602.27px;top:427.00px;font-size:11px">2</div><div class="c" style="left:683.30px;top:360px;width:19.25px;height:36px"><span>349</span></div><div class="c" style="left:701.55px;top:360px;width:19.25px;height:36px"><span>35<i>l</i></span></div><div class="c" style="left:719.80px;top:360px;width:19.25px;height:36px"><span>353</span></div><div class="c" style="left:738.05px;top:360px;width:19.25px;height:36px"><span>355</span></div><div class="c" style="left:756.30px;top:360px;width:19.25px;height:36px"><span>357</span></div><div class="c" style="left:774.55px;top:360px;width:19.25px;height:36px"><span>359</span></div><div class="c" style="left:792.80px;top:360px;width:19.25px;height:36px"><span>36<i>l</i></span></div><div class="c" style="left:683.30px;top:439px;width:19.25px;height:36px"><span>350</span></div><div class="c" style="left:701.55px;top:439px;width:19.25px;height:36px"><span>352</span></div><div class="c" style="left:719.80px;top:439px;width:19.25px;height:36px"><span>354</span></div><div class="c" style="left:738.05px;top:439px;width:19.25px;height:36px"><span>356</span></div><div class="c" style="left:756.30px;top:439px;width:19.25px;height:36px"><span>358</span></div><div class="c" style="left:774.55px;top:439px;width:19.25px;height:36px"><span>360</span></div><div class="c" style="left:792.80px;top:439px;width:19.25px;height:36px"><span>362</span></div><div class="l" style="left:683.42px;top:394.00px;font-size:11px">2</div><div class="l" style="left:701.67px;top:394.00px;font-size:11px">2</div><div class="l" style="left:719.92px;top:394.00px;font-size:11px">2</div><div class="l" style="left:738.17px;top:394.00px;font-size:11px">2</div><div class="l" style="left:756.42px;top:394.00px;font-size:11px">2</div><div class="l" style="left:774.67px;top:394.00px;font-size:11px">2</div><div class="l" style="left:792.92px;top:394.00px;font-size:11px">2</div><div class="l" style="left:683.42px;top:427.00px;font-size:11px">2</div><div class="l" style="left:701.67px;top:427.00px;font-size:11px">2</div><div class="l" style="left:719.92px;top:427.00px;font-size:11px">2</div><div class="l" style="left:738.17px;top:427.00px;font-size:11px">2</div><div class="l" style="left:756.42px;top:427.00px;font-size:11px">2</div><div class="l" style="left:774.67px;top:427.00px;font-size:11px">2</div><div class="l" style="left:792.92px;top:427.00px;font-size:11px">2</div><div class="c" style="left:310.20px;top:524px;width:19.25px;height:36px"><span>203</span></div><div class="c" style="left:328.45px;top:524px;width:19.25px;height:36px"><span>205</span></div><div class="c" style="left:346.70px;top:524px;width:19.25px;height:36px"><span>207</span></div><div class="c" style="left:364.95px;top:524px;width:19.25px;height:36px"><span>209</span></div><div class="c" style="left:383.20px;top:524px;width:19.25px;height:36px"><span>2<i>l</i><i>l</i></span></div><div class="c" style="left:401.45px;top:524px;width:19.25px;height:36px"><span>2<i>l</i>3</span></div><div class="c" style="left:419.70px;top:524px;width:19.25px;height:36px"><span>2<i>l</i>5</span></div><div class="c" style="left:437.95px;top:524px;width:19.25px;height:36px"><span>2<i>l</i>7</span></div><div class="c" style="left:456.20px;top:524px;width:19.25px;height:36px"><span>2<i>l</i>9</span></div><div class="c" style="left:474.45px;top:524px;width:19.25px;height:36px"><span>22<i>l</i></span></div><div class="c" style="left:492.70px;top:524px;width:19.25px;height:36px"><span>223</span></div><div class="c" style="left:510.95px;top:524px;width:19.25px;height:36px"><span>225</span></div><div class="c" style="left:529.20px;top:524px;width:19.25px;height:36px"><span>227</span></div><div class="c" style="left:547.45px;top:524px;width:19.25px;height:36px"><span>229</span></div><div class="c" style="left:565.70px;top:524px;width:19.25px;height:36px"><span>23<i>l</i></span></div><div class="c" style="left:583.95px;top:524px;width:19.25px;height:36px"><span>233</span></div><div class="c" style="left:310.20px;top:603px;width:19.25px;height:36px"><span>204</span></div><div class="c" style="left:328.45px;top:603px;width:19.25px;height:36px"><span>206</span></div><div class="c" style="left:346.70px;top:603px;width:19.25px;height:36px"><span>208</span></div><div class="c" style="left:364.95px;top:603px;width:19.25px;height:36px"><span>2<i>l</i>0</span></div><div class="c" style="left:383.20px;top:603px;width:19.25px;height:36px"><span>2<i>l</i>2</span></div><div class="c" style="left:401.45px;top:603px;width:19.25px;height:36px"><span>2<i>l</i>4</span></div><div class="c" style="left:419.70px;top:603px;width:19.25px;height:36px"><span>2<i>l</i>6</span></div><div class="c" style="left:437.95px;top:603px;width:19.25px;height:36px"><span>2<i>l</i>8</span></div><div class="c" style="left:456.20px;top:603px;width:19.25px;height:36px"><span>220</span></div><div class="c" style="left:474.45px;top:603px;width:19.25px;height:36px"><span>222</span></div><div class="c" style="left:492.70px;top:603px;width:19.25px;height:36px"><span>224</span></div><div class="c" style="left:510.95px;top:603px;width:19.25px;height:36px"><span>226</span></div><div class="c" style="left:529.20px;top:603px;width:19.25px;height:36px"><span>228</span></div><div class="c" style="left:547.45px;top:603px;width:19.25px;height:36px"><span>230</span></div><div class="c" style="left:565.70px;top:603px;width:19.25px;height:36px"><span>232</span></div><div class="c" style="left:583.95px;top:603px;width:19.25px;height:36px"><span>234</span></div><div class="l" style="left:310.32px;top:558.00px;font-size:11px">2</div><div class="l" style="left:328.57px;top:558.00px;font-size:11px">2</div><div class="l" style="left:346.82px;top:558.00px;font-size:11px">2</div><div class="l" style="left:365.07px;top:558.00px;font-size:11px">2</div><div class="l" style="left:383.32px;top:558.00px;font-size:11px">2</div><div class="l" style="left:401.57px;top:558.00px;font-size:11px">2</div><div class="l" style="left:419.82px;top:558.00px;font-size:11px">2</div><div class="l" style="left:438.07px;top:558.00px;font-size:11px">2</div><div class="l" style="left:456.32px;top:558.00px;font-size:11px">2</div><div class="l" style="left:474.57px;top:558.00px;font-size:11px">2</div><div class="l" style="left:492.82px;top:558.00px;font-size:11px">2</div><div class="l" style="left:511.08px;top:558.00px;font-size:11px">2</div><div class="l" style="left:529.33px;top:558.00px;font-size:11px">2</div><div class="l" style="left:547.58px;top:558.00px;font-size:11px">2</div><div class="l" style="left:565.83px;top:558.00px;font-size:11px">2</div><div class="l" style="left:584.08px;top:558.00px;font-size:11px">2</div><div class="l" style="left:310.32px;top:591.00px;font-size:11px">2</div><div class="l" style="left:328.57px;top:591.00px;font-size:11px">2</div><div class="l" style="left:346.82px;top:591.00px;font-size:11px">2</div><div class="l" style="left:365.07px;top:591.00px;font-size:11px">2</div><div class="l" style="left:383.32px;top:591.00px;font-size:11px">2</div><div class="l" style="left:401.57px;top:591.00px;font-size:11px">2</div><div class="l" style="left:419.82px;top:591.00px;font-size:11px">2</div><div class="l" style="left:438.07px;top:591.00px;font-size:11px">2</div><div class="l" style="left:456.32px;top:591.00px;font-size:11px">2</div><div class="l" style="left:474.57px;top:591.00px;font-size:11px">2</div><div class="l" style="left:492.82px;top:591.00px;font-size:11px">2</div><div class="l" style="left:511.08px;top:591.00px;font-size:11px">2</div><div class="l" style="left:529.33px;top:591.00px;font-size:11px">2</div><div class="l" style="left:547.58px;top:591.00px;font-size:11px">2</div><div class="l" style="left:565.83px;top:591.00px;font-size:11px">2</div><div class="l" style="left:584.08px;top:591.00px;font-size:11px">2</div><div class="c" style="left:410.30px;top:676px;width:19.25px;height:51px"><span><i>l</i>0<i>l</i></span></div><div class="c" style="left:428.55px;top:676px;width:19.25px;height:51px"><span><i>l</i>03</span></div><div class="c" style="left:446.80px;top:676px;width:19.25px;height:51px"><span><i>l</i>05</span></div><div class="c" style="left:465.05px;top:676px;width:19.25px;height:51px"><span><i>l</i>07</span></div><div class="c" style="left:483.30px;top:676px;width:19.25px;height:51px"><span><i>l</i>09</span></div><div class="c" style="left:501.55px;top:676px;width:19.25px;height:51px"><span><i>l</i><i>l</i><i>l</i></span></div><div class="c" style="left:519.80px;top:676px;width:19.25px;height:51px"><span><i>l</i><i>l</i>3</span></div><div class="l" style="left:410.43px;top:727.00px;font-size:11px">4</div><div class="l" style="left:428.68px;top:727.00px;font-size:11px">4</div><div class="l" style="left:446.93px;top:727.00px;font-size:11px">4</div><div class="l" style="left:465.18px;top:727.00px;font-size:11px">4</div><div class="l" style="left:483.43px;top:727.00px;font-size:11px">4</div><div class="l" style="left:501.67px;top:727.00px;font-size:11px">4</div><div class="l" style="left:519.92px;top:727.00px;font-size:11px">4</div>
</body></html>
